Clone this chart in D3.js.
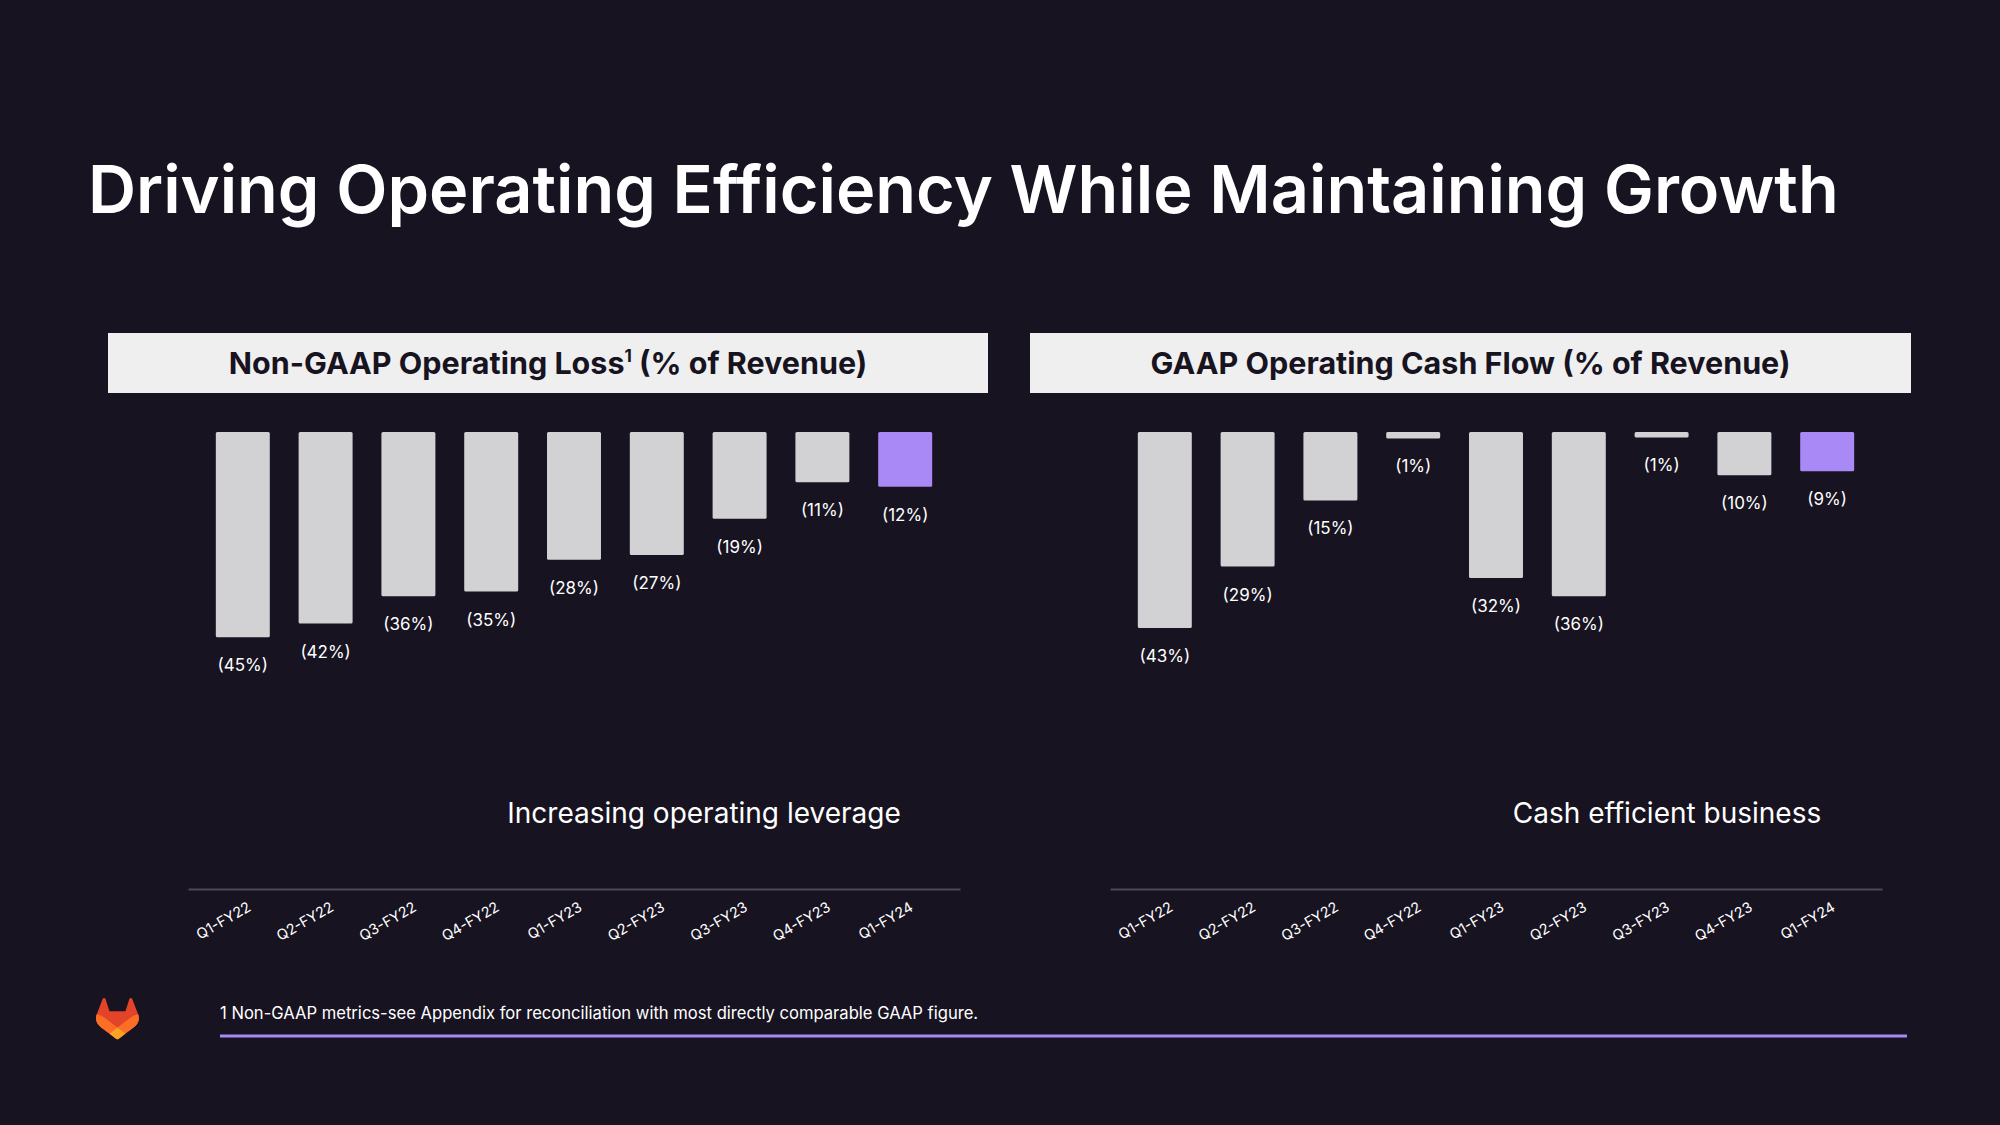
<!DOCTYPE html>
<html>
<head>
<meta charset="utf-8">
<script src="https://cdn.jsdelivr.net/npm/d3@7"></script>
<style>
  html, body { margin: 0; padding: 0; background: #171321; }
  svg { display: block; }
  text { font-family: Inter, "Noto Sans", sans-serif; }
</style>
</head>
<body>
<svg id="chart" width="2000" height="1125"></svg>
<script>
// ---- Data ----
const quarters = ["Q1-FY22","Q2-FY22","Q3-FY22","Q4-FY22","Q1-FY23","Q2-FY23","Q3-FY23","Q4-FY23","Q1-FY24"];
const opLossValues = [45, 42, 36, 35, 28, 27, 19, 11, 12];
const opLossLabels = ["(45%)","(42%)","(36%)","(35%)","(28%)","(27%)","(19%)","(11%)","(12%)"];
const cashFlowValues = [43, 29.5, 15, 1.4, 32, 36, 1.2, 9.5, 8.6];
const cashFlowLabels = ["(43%)","(29%)","(15%)","(1%)","(32%)","(36%)","(1%)","(10%)","(9%)"];
const highlightQuarter = "Q1-FY24";

const svg = d3.select("#chart");
const BG = "#171321", BAR = "#d2d1d4", PURPLE = "#a989f5";

svg.append("rect").attr("width", 2000).attr("height", 1125).attr("fill", BG);

// Title
svg.append("text")
  .attr("x", 88).attr("y", 213)
  .attr("fill", "#ffffff")
  .attr("font-size", 66.6).attr("font-weight", 600)
  .text("Driving Operating Efficiency While Maintaining Growth");

function panel(opts) {
  const g = svg.append("g");
  // header box
  g.append("rect")
    .attr("x", opts.boxX).attr("y", 333)
    .attr("width", opts.boxW).attr("height", 60)
    .attr("fill", "#efefef");
  const ht = g.append("text")
    .attr("x", opts.boxX + opts.boxW / 2).attr("y", 374)
    .attr("text-anchor", "middle")
    .attr("fill", "#171321")
    .attr("font-size", 30.5).attr("font-weight", 700);
  ht.append("tspan").text(opts.title);
  if (opts.sup) {
    ht.append("tspan").attr("font-size", 17).attr("dy", -12).text(opts.sup);
    ht.append("tspan").attr("dy", 12).text(opts.title2);
  }

  const x = d3.scaleBand()
    .domain(quarters)
    .range([opts.axisX0, opts.axisX1])
    .paddingInner(0.348)
    .paddingOuter(0.336);
  const y = d3.scaleLinear().domain([0, 50]).range([432, 432 + 228]);

  const data = quarters.map((q, i) => ({ q, v: opts.values[i], label: opts.labels[i] }));

  g.selectAll("rect.bar")
    .data(data)
    .join("rect")
    .attr("class", "bar")
    .attr("x", d => x(d.q))
    .attr("y", y(0))
    .attr("width", x.bandwidth())
    .attr("height", d => y(d.v) - y(0))
    .attr("rx", 1.5)
    .attr("fill", d => d.q === highlightQuarter ? PURPLE : BAR);

  g.selectAll("text.val")
    .data(data)
    .join("text")
    .attr("class", "val")
    .attr("x", d => x(d.q) + x.bandwidth() / 2)
    .attr("y", d => y(d.v) + 34)
    .attr("text-anchor", "middle")
    .attr("fill", "#ffffff")
    .attr("font-size", 17)
    .text(d => d.label);

  // category axis
  const axis = d3.axisBottom(x).tickSize(0).tickSizeOuter(0).tickPadding(0);
  const ag = g.append("g").attr("transform", "translate(0,889)").call(axis);
  ag.select(".domain").attr("stroke", "#4c4857").attr("stroke-width", 2);
  ag.selectAll(".tick text")
    .attr("fill", "#ffffff")
    .attr("font-size", 14.5)
    .attr("font-family", "Inter, 'Noto Sans', sans-serif")
    .attr("text-anchor", "end")
    .attr("dy", 0)
    .attr("y", 0)
    .attr("transform", "translate(9,21) rotate(-30)");

  // caption
  g.append("text")
    .attr("x", opts.captionX).attr("y", 823)
    .attr("text-anchor", "middle")
    .attr("fill", "#ffffff")
    .attr("font-size", 28)
    .text(opts.caption);
}

panel({
  boxX: 108, boxW: 880,
  title: "Non-GAAP Operating Loss", sup: "1", title2: " (% of Revenue)",
  axisX0: 188, axisX1: 960,
  values: opLossValues, labels: opLossLabels,
  caption: "Increasing operating leverage", captionX: 704
});

panel({
  boxX: 1030, boxW: 881,
  title: "GAAP Operating Cash Flow (% of Revenue)",
  axisX0: 1110, axisX1: 1882,
  values: cashFlowValues, labels: cashFlowLabels,
  caption: "Cash efficient business", captionX: 1667
});

// Footnote
svg.append("text")
  .attr("x", 220).attr("y", 1019)
  .attr("fill", "#ffffff")
  .attr("font-size", 16.6)
  .text("1 Non-GAAP metrics-see Appendix for reconciliation with most directly comparable GAAP figure.");

svg.append("line")
  .attr("x1", 220).attr("x2", 1907)
  .attr("y1", 1036).attr("y2", 1036)
  .attr("stroke", PURPLE).attr("stroke-width", 3);

// GitLab logo
const logo = svg.append("g").attr("transform", "translate(96,998) scale(1.72)");
logo.append("path").attr("fill", "#E24329")
  .attr("d", "m24.507 9.5-.034-.09L21.082.562a.896.896 0 0 0-1.694.091l-2.29 7.01H7.825L5.535.653a.898.898 0 0 0-1.694-.09L.451 9.411.416 9.5a6.297 6.297 0 0 0 2.09 7.278l.012.01.03.022 5.16 3.867 2.56 1.935 1.554 1.176a1.051 1.051 0 0 0 1.268 0l1.555-1.176 2.56-1.935 5.197-3.890.014-.01A6.297 6.297 0 0 0 24.507 9.5Z");
logo.append("path").attr("fill", "#FC6D26")
  .attr("d", "m24.507 9.5-.034-.09a11.44 11.44 0 0 0-4.56 2.051l-7.447 5.632 4.742 3.584 5.197-3.890.014-.01A6.297 6.297 0 0 0 24.507 9.5Z");
logo.append("path").attr("fill", "#FCA326")
  .attr("d", "m7.707 20.677 2.56 1.935 1.555 1.176a1.051 1.051 0 0 0 1.268 0l1.555-1.176 2.56-1.935-4.743-3.584-4.755 3.584Z");
logo.append("path").attr("fill", "#FC6D26")
  .attr("d", "M5.010 11.461a11.430 11.430 0 0 0-4.560-2.050L.416 9.500a6.297 6.297 0 0 0 2.090 7.278l.012.010.030.022 5.160 3.867 4.745-3.584-7.444-5.632Z");
</script>
</body>
</html>
